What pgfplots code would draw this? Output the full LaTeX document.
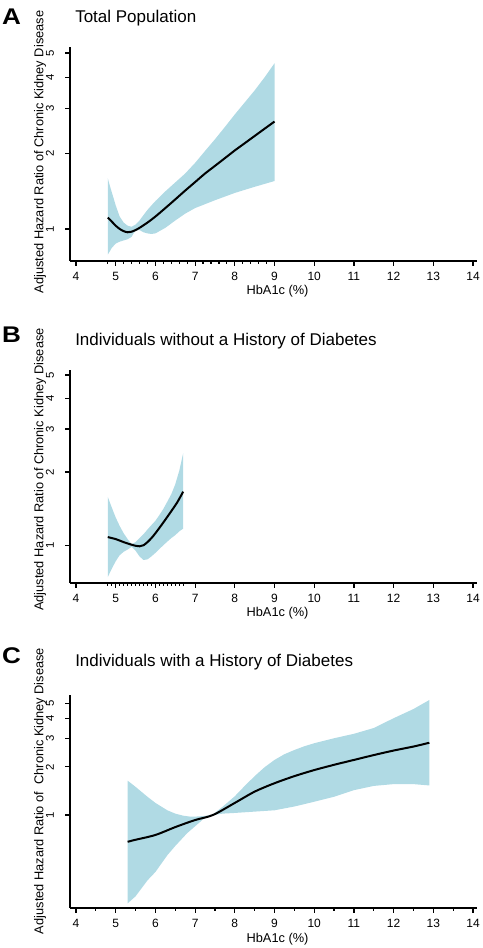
\documentclass[border=0pt]{standalone}
\usepackage{fontspec}
\setmainfont{Liberation Sans}
\usepackage{graphicx}
\usepackage{pgfplots}
\pgfplotsset{compat=1.18}
\definecolor{band}{RGB}{176,218,228}
\pgfplotsset{hba/.style={
  scale only axis, width=305.25pt, xmin=3.849, xmax=14.10,
  axis x line*=bottom, axis y line*=left,
  axis line style={line width=1.1pt, -},
  xtick={4,...,14}, ytick={1,2,3,4,5},
  yticklabels={\rotatebox{90}{1},\rotatebox{90}{2},\rotatebox{90}{3},\rotatebox{90}{4},\rotatebox{90}{5}},
  tick align=outside, major tick length=3.5pt, minor tick length=2.1pt,
  tick style={black, line width=0.9pt},
  yminorticks=false,
  /pgf/number format/assume math mode=true,
  x tick label style={font=\fontsize{9}{10}\selectfont},
  xticklabel shift=1.5pt,
  y tick label style={font=\fontsize{8.5}{10}\selectfont, anchor=east, xshift=-5pt},
  xlabel={HbA1c (\%)},
  xlabel style={font=\fontsize{9.6}{11}\selectfont, at={(axis description cs:0.51,0)}, anchor=base, yshift=-25.5pt},
}}
\begin{document}
\begin{tikzpicture}
\path[use as bounding box] (0,0) rectangle (361.5pt,711pt);
% ---------------- Panel A
\begin{axis}[ymode=log, hba, at={(52.5pt,515.25pt)}, anchor=south west, height=160.5pt,
  ymin=0.746, ymax=5.28, minor xtick={4.8,5.0,...,9.0}]
\addplot[fill=band, draw=none] coordinates {
(4.8,1.59) (4.85,1.49) (4.9,1.40) (4.95,1.32) (5.0,1.24) (5.1,1.12) (5.2,1.06) (5.3,1.03) (5.4,1.02) (5.5,1.04) (5.6,1.08) (5.7,1.135) (5.8,1.19) (5.9,1.24) (6.0,1.29) (6.25,1.41) (6.5,1.53) (6.75,1.66) (7.0,1.83) (7.25,2.04) (7.5,2.27) (7.75,2.54) (8.0,2.85) (8.25,3.18) (8.5,3.55) (8.75,4.0) (9.0,4.55)
(9.0,1.55) (8.5,1.47) (8.0,1.39) (7.5,1.30) (7.0,1.21) (6.75,1.15) (6.5,1.08) (6.25,1.01) (6.0,0.96) (5.9,0.955) (5.8,0.96) (5.7,0.97) (5.6,0.99) (5.5,0.985) (5.45,0.96) (5.4,0.93) (5.3,0.91) (5.2,0.90) (5.1,0.89) (5.0,0.875) (4.9,0.84) (4.8,0.79)} -- cycle;
\addplot[black, line width=1.5pt, smooth] coordinates {
(4.8,1.11) (4.9,1.07) (5.0,1.03) (5.1,1.0) (5.2,0.98) (5.3,0.97) (5.4,0.975) (5.5,0.99) (5.6,1.01) (5.8,1.06) (6.0,1.12) (6.25,1.21) (6.5,1.31) (6.75,1.42) (7.0,1.535) (7.25,1.66) (7.5,1.78) (7.75,1.91) (8.0,2.05) (8.25,2.19) (8.5,2.34) (8.75,2.50) (9.0,2.67)};
\end{axis}
% ---------------- Panel B
\begin{axis}[ymode=log, hba, at={(52.5pt,273.75pt)}, anchor=south west, height=159.75pt,
  ymin=0.70, ymax=5.24, minor xtick={4.8,4.9,...,6.7}]
\addplot[fill=band, draw=none] coordinates {
(4.8,1.58) (4.9,1.43) (5.0,1.30) (5.1,1.20) (5.2,1.12) (5.3,1.06) (5.4,1.01) (5.5,1.03) (5.6,1.07) (5.7,1.11) (5.8,1.16) (5.9,1.21) (6.0,1.26) (6.1,1.33) (6.2,1.41) (6.3,1.51) (6.4,1.62) (6.5,1.78) (6.6,2.02) (6.7,2.39)
(6.7,1.17) (6.6,1.14) (6.5,1.10) (6.4,1.07) (6.3,1.035) (6.2,1.00) (6.1,0.965) (6.0,0.93) (5.9,0.90) (5.8,0.875) (5.7,0.87) (5.6,0.90) (5.5,0.95) (5.4,0.985) (5.3,0.96) (5.2,0.94) (5.1,0.91) (5.0,0.86) (4.9,0.80) (4.8,0.74)} -- cycle;
\addplot[black, line width=1.5pt, smooth] coordinates {
(4.8,1.08) (5.0,1.06) (5.2,1.03) (5.4,1.005) (5.5,0.995) (5.6,0.99) (5.7,1.0) (5.8,1.03) (5.9,1.07) (6.0,1.12) (6.2,1.24) (6.4,1.38) (6.55,1.50) (6.7,1.66)};
\end{axis}
% ---------------- Panel C
\begin{axis}[ymode=log, hba, at={(52.5pt,30pt)}, anchor=south west, height=159.75pt,
  ymin=0.262, ymax=5.63, minor xtick={4.5,5.5,...,13.5}]
\addplot[fill=band, draw=none] coordinates {
(5.3,1.64) (5.5,1.50) (5.8,1.30) (6.0,1.19) (6.3,1.07) (6.5,1.02) (6.7,0.99) (6.9,0.975) (7.1,0.98) (7.3,0.99) (7.45,1.01) (7.7,1.13) (8.0,1.31) (8.25,1.52) (8.5,1.75) (8.75,1.99) (9.0,2.21) (9.25,2.40) (9.5,2.55) (9.75,2.69) (10.0,2.81) (10.5,3.02) (11.0,3.22) (11.5,3.50) (12.0,4.03) (12.5,4.6) (12.9,5.24)
(12.9,1.53) (12.5,1.56) (12.0,1.56) (11.5,1.52) (11.0,1.43) (10.5,1.30) (10.0,1.21) (9.5,1.13) (9.0,1.07) (8.5,1.05) (8.0,1.03) (7.7,1.02) (7.45,1.0) (7.2,0.94) (7.0,0.85) (6.8,0.77) (6.5,0.64) (6.3,0.56) (6.0,0.44) (5.8,0.39) (5.5,0.31) (5.3,0.28)} -- cycle;
\addplot[black, line width=1.5pt, smooth] coordinates {
(5.3,0.68) (5.5,0.70) (6.0,0.75) (6.5,0.84) (7.0,0.93) (7.45,1.0) (8.0,1.19) (8.5,1.40) (9.0,1.58) (9.5,1.75) (10.0,1.91) (10.5,2.06) (11.0,2.21) (11.5,2.37) (12.0,2.53) (12.5,2.68) (12.9,2.83)};
\end{axis}
% ---------------- Labels
\tikzset{ttl/.style={anchor=base west, inner sep=0pt, font=\fontsize{12.75}{14}\selectfont},
  pl/.style={anchor=base west, inner sep=0pt, xscale=1.15, font=\fontsize{17}{17}\selectfont\bfseries},
  yl/.style={rotate=90, inner sep=0pt, font=\fontsize{9.6}{11}\selectfont}}
\node[pl] at (1.3pt,692.25pt) {A};
\node[ttl] at (56.25pt,693.75pt) {Total Population};
\node[yl] at (30pt,597pt) {Adjusted Hazard Ratio of Chronic Kidney Disease};
\node[pl] at (1.3pt,453.75pt) {B};
\node[ttl] at (56.25pt,451.5pt) {Individuals without a History of Diabetes};
\node[yl] at (30pt,358.9pt) {Adjusted Hazard Ratio of Chronic Kidney Disease};
\node[pl] at (1.3pt,213.3pt) {C};
\node[ttl] at (56.25pt,210.75pt) {Individuals with a History of Diabetes};
\node[yl] at (30pt,117.75pt) {Adjusted Hazard Ratio of\ \ Chronic Kidney Disease};
\end{tikzpicture}
\end{document}
